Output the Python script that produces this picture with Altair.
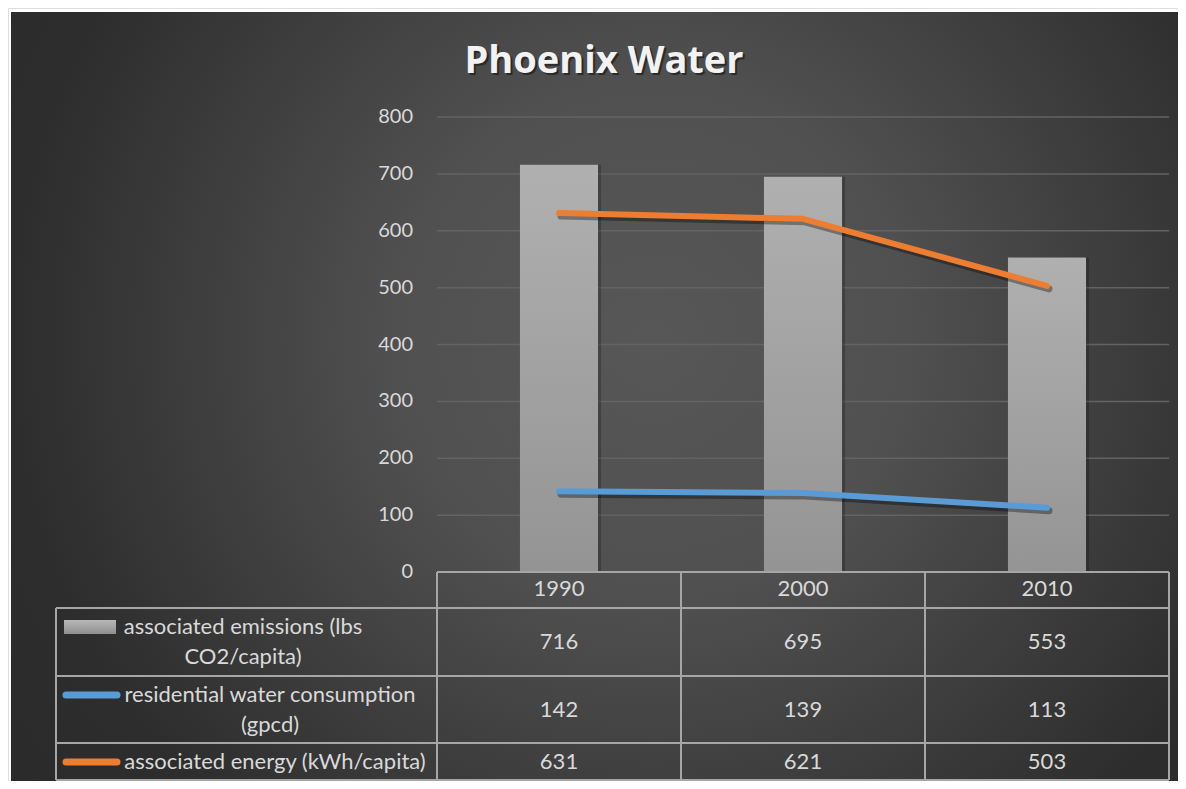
import altair as alt
import pandas as pd

# ---------------- data ----------------
years = ["1990", "2000", "2010"]
emissions = [716, 695, 553]
water = [142, 139, 113]
energy = [631, 621, 503]
series_names = [
    "associated emissions (lbs CO2/capita)",
    "residential water consumption (gpcd)",
    "associated energy (kWh/capita)",
]
legend_lines = [
    ["associated emissions (lbs", "CO2/capita)"],
    ["residential water consumption", "(gpcd)"],
    ["associated energy (kWh/capita)"],
]
y_ticks = [0, 100, 200, 300, 400, 500, 600, 700, 800]
title_text = "Phoenix Water"

# ---------------- layout ----------------
W, H = 1170, 773
X0, X1 = 429, 1161          # plot area / data columns
Y0, YTOP = 564, 109         # value 0 and value 800
TL = 48                      # table left edge
ROW_LINES = [600, 668, 735, 772]
COL_LINES = [429, 673, 917, 1161]
HEADER_Y = 581
ROW_Y = [634, 702, 754]
LEG_X = [235, 262, 267]
LEG_LH = 30
FONT = "Lato"
TXT = "#d9d9d9"
LINE_C = "#a6a6a6"
ORANGE = "#ed7d31"
BLUE = "#5b9bd5"

wide = pd.DataFrame({"year": years, "emissions": emissions, "water": water, "energy": energy})
long = pd.DataFrame(
    [{"year": y, "series": s, "value": v}
     for s, vals in zip(series_names, [emissions, water, energy])
     for y, v in zip(years, vals)]
)
ticks = pd.DataFrame({"v": y_ticks})
one = alt.Data(values=[{"k": 1}])

xsc = alt.Scale(type="band", domain=years, range=[X0, X1], paddingInner=0, paddingOuter=0)
ysc = alt.Scale(domain=[0, 800], range=[Y0, YTOP])
X = alt.X("year:N", scale=xsc, axis=None)

layers = []

# background
bg = alt.Chart(one).mark_rect(
    fill=alt.Gradient(
        gradient="radial",
        x1=0.55, y1=0.45, r1=0,
        x2=0.55, y2=0.45, r2=1,
        stops=[
            alt.GradientStop(color="#575757", offset=0),
            alt.GradientStop(color="#505050", offset=0.22),
            alt.GradientStop(color="#2d2d2d", offset=0.55),
            alt.GradientStop(color="#252525", offset=1),
        ],
    )
).encode(x=alt.value(3), x2=alt.value(W), y=alt.value(4), y2=alt.value(H))
layers.append(bg)

# gridlines
grid = alt.Chart(ticks).transform_filter("datum.v > 0").mark_rule(
    color="#636363", strokeWidth=1.5
).encode(y=alt.Y("v:Q", scale=ysc, axis=None), x=alt.value(X0), x2=alt.value(X1))
layers.append(grid)

# y labels
ylab = alt.Chart(ticks).mark_text(
    align="right", baseline="middle", font=FONT, fontSize=20, color=TXT
).encode(y=alt.Y("v:Q", scale=ysc, axis=None), x=alt.value(405), text="v:Q")
layers.append(ylab)

# bars (shadow + bar)
bar_shadow = alt.Chart(wide).mark_bar(
    width=alt.RelativeBandSize(0.32), color="black", opacity=0.22, xOffset=3
).encode(x=X, y=alt.Y("emissions:Q", scale=ysc, axis=None), y2=alt.datum(0))
bars = alt.Chart(wide).mark_bar(
    width=alt.RelativeBandSize(0.32),
    color=alt.Gradient(
        gradient="linear", x1=0, x2=0, y1=0, y2=1,
        stops=[alt.GradientStop(color="#b0b0b0", offset=0),
               alt.GradientStop(color="#949494", offset=1)],
    ),
).encode(x=X, y=alt.Y("emissions:Q", scale=ysc, axis=None), y2=alt.datum(0))
layers += [bar_shadow, bars]

# lines (shadow + line)
for col, c in [("water", BLUE), ("energy", ORANGE)]:
    sh = alt.Chart(wide).mark_line(
        color="black", opacity=0.35, strokeWidth=7, strokeCap="round",
        strokeJoin="round", xOffset=2, yOffset=3
    ).encode(x=X, y=alt.Y(f"{col}:Q", scale=ysc, axis=None))
    ln = alt.Chart(wide).mark_line(
        color=c, strokeWidth=6, strokeCap="round", strokeJoin="round"
    ).encode(x=X, y=alt.Y(f"{col}:Q", scale=ysc, axis=None))
    layers += [sh, ln]

# table lines
def hline(y, xa, xb):
    return alt.Chart(one).mark_rule(color=LINE_C, strokeWidth=2).encode(
        x=alt.value(xa), x2=alt.value(xb), y=alt.value(y))

def vline(x, ya, yb):
    return alt.Chart(one).mark_rule(color=LINE_C, strokeWidth=2).encode(
        x=alt.value(x), y=alt.value(ya), y2=alt.value(yb))

layers.append(hline(Y0, X0, X1))
for y in ROW_LINES:
    layers.append(hline(y, TL, X1))
layers.append(vline(TL, ROW_LINES[0], ROW_LINES[-1]))
for x in COL_LINES:
    layers.append(vline(x, Y0, ROW_LINES[-1]))

# header years
hdr = alt.Chart(wide).mark_text(
    align="center", baseline="middle", font=FONT, fontSize=22, color=TXT
).encode(x=X, y=alt.value(HEADER_Y), text="year:N")
layers.append(hdr)

# table values
for s, ry in zip(series_names, ROW_Y):
    t = alt.Chart(long).transform_filter(alt.datum.series == s).mark_text(
        align="center", baseline="middle", font=FONT, fontSize=22, color=TXT
    ).encode(x=X, y=alt.value(ry), text="value:Q")
    layers.append(t)

# legend text
for lines, lx, ry in zip(legend_lines, LEG_X, ROW_Y):
    first_y = ry - LEG_LH * (len(lines) - 1) / 2
    t = alt.Chart(one).mark_text(
        align="center", baseline="middle", font=FONT, fontSize=22, color=TXT,
        lineHeight=LEG_LH, text=lines
    ).encode(x=alt.value(lx), y=alt.value(first_y))
    layers.append(t)

# legend swatches
sw_bar = alt.Chart(one).mark_rect(
    color=alt.Gradient(
        gradient="linear", x1=0, x2=0, y1=0, y2=1,
        stops=[alt.GradientStop(color="#b8b8b8", offset=0),
               alt.GradientStop(color="#8e8e8e", offset=1)],
    )
).encode(x=alt.value(56), x2=alt.value(108), y=alt.value(612), y2=alt.value(626))
layers.append(sw_bar)
for c, ry in [(BLUE, 687), (ORANGE, 754)]:
    layers.append(alt.Chart(one).mark_rule(color=c, strokeWidth=7, strokeCap="round").encode(
        x=alt.value(58), x2=alt.value(109), y=alt.value(ry)))

# title (shadow + text)
layers.append(alt.Chart(one).mark_text(
    align="center", baseline="alphabetic", font="Open Sans", fontSize=38, fontWeight="bold",
    color="black", opacity=0.45, text=title_text
).encode(x=alt.value(598), y=alt.value(67)))
layers.append(alt.Chart(one).mark_text(
    align="center", baseline="alphabetic", font="Open Sans", fontSize=38, fontWeight="bold",
    color="#f2f2f2", text=title_text
).encode(x=alt.value(596), y=alt.value(65)))

chart = alt.layer(*layers).properties(
    width=W, height=H, autosize=alt.AutoSizeParams(type="none"), padding=0
).configure_view(stroke=None).configure(background="white")

chart.save("out.html", embed_options={"renderer": "svg", "actions": False})
